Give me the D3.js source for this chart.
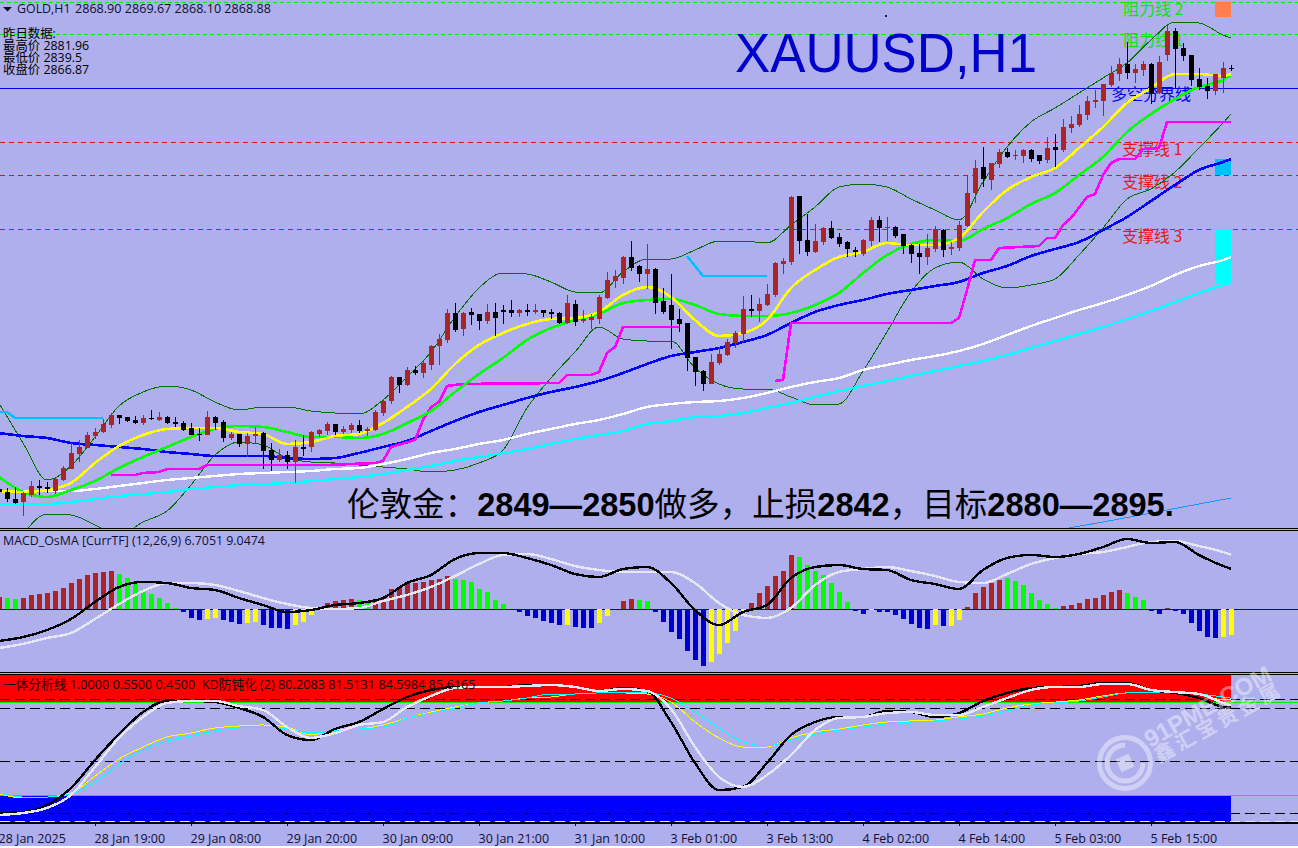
<!DOCTYPE html>
<html><head><meta charset="utf-8">
<script src="https://cdn.jsdelivr.net/npm/d3@7"></script>
<style>
html,body{margin:0;padding:0;background:#fff;overflow:hidden}
svg{display:block}
text{font-family:"Open Sans","Noto Sans CJK SC",sans-serif}
.cjk{font-family:"Noto Sans CJK SC",sans-serif}
</style></head><body>
<svg id="c" width="1298" height="848"></svg>
<script>
// ---- candles (GOLD H1) ----
const open=[2742.6,2741.7,2739.6,2738.7,2740.8,2743.5,2743.2,2742,2745.3,2748.6,2753.1,2754.9,2758.5,2759.7,2761.8,2764.8,2764.2,2763.3,2762.4,2763.9,2763.3,2764.2,2762.7,2762.4,2760.9,2759.1,2758.8,2764.2,2762.7,2757.9,2759.1,2756.1,2758.5,2759.4,2754.3,2751.3,2752.8,2750.7,2755.2,2755.2,2759.1,2760,2762.1,2759.7,2760.3,2761.8,2760,2760.3,2765.4,2769,2776.2,2773.8,2778.3,2777.4,2779.8,2785.5,2787.3,2795.4,2790.6,2795.7,2795.1,2793,2795.7,2796.3,2796.3,2795.4,2796.3,2795.7,2796.3,2795.7,2795.4,2792.4,2798.1,2793,2793.3,2793.6,2799.9,2805,2805.9,2812.2,2809.5,2807.1,2808.6,2799,2797.8,2793.6,2792.4,2782.2,2778,2774.1,2780.4,2782.8,2786.4,2789.1,2796.6,2796,2797.8,2800.8,2810.1,2810.7,2830.5,2817.3,2813.7,2816.7,2820.9,2818.2,2816.7,2814.3,2813.1,2817,2823.3,2820.9,2821.2,2819.1,2815.8,2813.4,2812.2,2814.6,2820.3,2814.6,2814.9,2821.5,2831.4,2839.2,2835.3,2840.1,2843.7,2842.5,2842.5,2844.3,2842.8,2841.3,2845.2,2844.3,2850.9,2851.8,2854.8,2858.7,2859,2863.8,2867.1,2870.1,2867.4,2868.3,2870.1,2861.4,2872.8,2880,2874.9,2872.8,2865.6,2863.5,2862,2865.9,2868.9];
const high=[2742.6,2742.9,2743.2,2741.7,2745,2745.3,2744.7,2745.9,2749.5,2756.4,2757.3,2759.7,2760.9,2763.6,2765.4,2764.8,2764.2,2764.5,2764.8,2766.3,2765.7,2764.5,2764.2,2763,2762.4,2760.9,2766,2764.5,2763.3,2759.7,2759.1,2759.4,2761.2,2759.7,2756.4,2754.6,2754,2757.3,2758.8,2760,2760.6,2762.7,2762.1,2761.5,2762.4,2763.3,2761.2,2766.3,2769.3,2776.5,2776.2,2779.2,2779.5,2781.3,2785.8,2789.1,2796.6,2798.4,2795.7,2796.9,2795.1,2798.1,2798.4,2797.8,2799.3,2796.6,2798.1,2798.1,2796.3,2796.6,2795.7,2800.8,2799.3,2796.3,2795.1,2800.8,2807.7,2808.3,2812.5,2817,2809.8,2816.1,2808.9,2802.9,2807.1,2796.6,2792.4,2782.2,2778.3,2783.1,2785.2,2787.6,2790,2800.5,2800.8,2799.9,2804.1,2810.7,2811.9,2830.5,2830.5,2825.1,2822.1,2821.2,2823,2819.4,2817,2815.2,2817.6,2824.2,2824.5,2824.2,2821.5,2819.1,2816.1,2816.1,2819.1,2821.5,2820.6,2816.7,2823,2836.5,2841.3,2845.2,2840.4,2844.6,2844.9,2844.3,2844.6,2844.6,2842.8,2848.2,2849.1,2853.6,2854.5,2857.8,2860.5,2862.3,2864.1,2869.5,2871.9,2876.7,2870.1,2871,2870.4,2872.5,2882.1,2880.9,2876.4,2872.8,2868.9,2865.9,2867.1,2870.7,2869.67];
const low=[2741.7,2738.7,2738.1,2734.5,2740.2,2740.8,2741.4,2741.1,2745,2748.6,2750.7,2754.9,2757.6,2759.4,2760.9,2762.1,2762.7,2762.1,2761.8,2763.3,2763,2762.1,2761.2,2760,2758.8,2757,2758.8,2760.3,2756.7,2757.3,2755.2,2752.2,2756.4,2748.6,2748,2750.7,2748.6,2744.4,2752.5,2753.7,2758.2,2758.8,2758.8,2759.1,2759.4,2759.4,2758.5,2760,2764.5,2768.1,2771.4,2773.5,2776.8,2775.9,2778.3,2779.8,2786.4,2789.7,2788.5,2791.8,2790.3,2792.1,2788.5,2792.1,2794.2,2794.2,2794.5,2795.1,2794.2,2793.6,2792.1,2792.1,2791.5,2792.4,2790.6,2792.1,2799.6,2802.9,2804.1,2808,2804.7,2802.6,2795.1,2795.1,2784.6,2789.7,2778,2773.5,2772,2774.1,2779.8,2782.5,2784.9,2786.7,2794.2,2792.7,2797.5,2800.2,2807.1,2809.8,2813.1,2812.5,2813.4,2815.8,2817.6,2815.2,2812.2,2812.2,2812.5,2815.5,2816.7,2817,2817.9,2813.1,2810.4,2807.1,2809.8,2813.7,2812.2,2812.8,2814,2821.2,2828.4,2833.2,2832.3,2838.9,2841.9,2841.3,2840.4,2840.7,2840.1,2840.4,2839.2,2843.7,2849.4,2851.2,2853.3,2856.9,2854.5,2863.2,2865,2865.6,2864.4,2866.5,2858.1,2861.1,2871,2862.9,2871,2863.5,2862.3,2859.6,2860.8,2861.4,2868.1];
const close=[2741.7,2739.6,2738.4,2741.4,2743.5,2742.9,2742.6,2745.6,2748.9,2753.4,2755.2,2758.8,2759.7,2762.1,2764.8,2763.9,2763,2762.4,2763.9,2763.6,2764.2,2762.4,2762.1,2760.3,2758.8,2758.8,2764.2,2762.4,2757.9,2759.1,2756.1,2758.5,2759.1,2754,2751.3,2752.8,2750.7,2755.2,2754.6,2759.7,2760.3,2762.1,2759.7,2760.6,2761.8,2760,2760.6,2765.7,2769,2776.2,2773.8,2778.3,2777.4,2780.4,2785.5,2787.6,2795.4,2790.3,2795.4,2794.8,2793,2795.7,2793.9,2795.7,2795.4,2796.3,2795.7,2796.3,2795.4,2795.1,2792.4,2798.4,2792.7,2793.6,2794.2,2800.2,2805.3,2806.5,2812.2,2808.9,2807.1,2808.6,2798.4,2795.7,2793.3,2792.1,2781.9,2777.7,2774.1,2780.7,2783.1,2786.7,2789.4,2796.6,2796,2798.1,2801.1,2810.4,2811,2830.2,2817,2813.7,2817,2820.9,2817.9,2816.1,2814.6,2813.7,2817.3,2823.3,2820.9,2821.2,2818.5,2815.5,2813.1,2812.2,2814.9,2820.6,2814.3,2815.2,2821.8,2831.4,2838.9,2835.6,2840.4,2843.7,2842.2,2842.8,2844.3,2841.6,2841,2844.9,2844.3,2851.2,2852.1,2855.1,2859,2859.3,2864.1,2867.4,2870.1,2867.4,2868.6,2870.1,2861.4,2870.7,2880,2874.6,2872.5,2865.3,2863.2,2862,2867.1,2868.9,2868.88];

// ---- moving averages, Bollinger (one reading every third bar) ----
const maYellow=[2742,2741.7,2742.3,2744.4,2750.4,2755.5,2758.8,2760.6,2760.9,2760.9,2759.7,2759.1,2756.1,2756.7,2758.5,2759.1,2762.4,2767.2,2772.6,2780.1,2785.8,2789.4,2792.1,2793.6,2793.9,2795.7,2800.8,2803.2,2800.2,2793.3,2788.5,2789.4,2793.3,2802.9,2808.3,2812.2,2813.7,2816.4,2815.8,2815.8,2817.9,2825.7,2832.3,2836.2,2838.9,2844.9,2851.2,2858.4,2862.9,2867.1,2867.1,2866.5,2867.1];
const maGreen=[2746.2,2741.7,2740.2,2742.3,2745,2748.9,2752.2,2755.2,2758.2,2760.6,2761.5,2761.2,2759.7,2758.2,2758.2,2757.9,2759.1,2762.4,2766,2771.7,2777.1,2781.9,2787.3,2790.9,2793.3,2795.1,2798.4,2799.3,2799.6,2797.8,2795.1,2794.5,2794.5,2795.4,2797.8,2801.4,2807.4,2812.8,2816.1,2817.3,2817,2820.6,2823.9,2828.1,2831.4,2836.8,2842.2,2849.7,2855.1,2859.6,2863.2,2865.3,2866.8];
const maBlue=[2759.4,2758.5,2757.9,2756.4,2755.8,2755.2,2754.6,2753.7,2753.1,2752.5,2752.5,2752.5,2751.9,2751.6,2751.9,2753.4,2755.2,2757,2760,2763,2765.7,2767.8,2769.9,2771.7,2773.2,2775,2777.4,2780.1,2782.5,2783.7,2784.9,2786.7,2788.8,2792.4,2795.7,2797.8,2799.3,2801.1,2802.3,2803.5,2804.7,2807.4,2809.5,2812.5,2814.6,2816.7,2820.3,2824.2,2829,2833.8,2838.3,2840.7,2841.6];
const maWhite=[2742,2742,2742,2742,2742.6,2743.5,2744.4,2745.3,2745.9,2746.5,2747.1,2747.4,2747.7,2748,2748.6,2748.9,2750.1,2751.6,2753.4,2754.6,2756.1,2757.3,2759.1,2760.6,2762.1,2763.3,2765.1,2767.2,2768.1,2768.7,2769,2769.9,2771.4,2773.2,2774.7,2775.9,2778.3,2779.8,2781.3,2782.5,2784,2786.1,2788.8,2791.5,2793.9,2796.3,2798.4,2800.8,2803.5,2806.8,2809.5,2811.3,2812.2];
const maCyan=[2738.1,2738.1,2738.1,2738.7,2739.6,2740.5,2741.1,2741.7,2742.6,2743.2,2743.8,2744.1,2744.4,2745,2745.6,2746.2,2747.1,2748.3,2749.5,2751,2752.2,2753.4,2754.6,2756.1,2757.6,2758.8,2760,2762.1,2763,2764.2,2764.5,2765.4,2766.9,2768.4,2770.2,2772,2773.5,2775,2776.5,2778,2779.5,2781,2782.8,2784.9,2787,2789.1,2791.2,2793.6,2796,2798.7,2801.4,2803.8,2804.4];
const bbUpper=[2768.4,2756.4,2745.3,2749.5,2758.2,2767.5,2771.7,2773.5,2772.3,2768.7,2766.3,2767.2,2767.2,2766,2765.4,2765.1,2769.3,2776.2,2783.7,2794.2,2802.9,2807.4,2807.1,2804.7,2801.7,2801.4,2807.7,2811.6,2811.6,2814.3,2817,2817,2816.4,2821.8,2827.2,2833.2,2834.1,2833.2,2829.6,2826.3,2823.3,2834.7,2845.2,2852.7,2856.9,2861.4,2865.9,2870.4,2877.3,2882.7,2882.4,2878.8,2877.9];
const bbLower=[2715.3,2728.8,2735.1,2734.8,2731.8,2728.8,2732.7,2736,2743.8,2752.8,2756.7,2755.8,2751.9,2750.7,2750.4,2749.8,2749.2,2748.6,2747.7,2748.3,2750.4,2754.3,2766.9,2775.9,2783.7,2791.2,2787.6,2787,2787,2778.9,2774.1,2772.6,2772.6,2770.2,2767.8,2768.1,2778,2789.7,2801.7,2808.9,2810.7,2805.6,2802.9,2803.8,2805.6,2812.8,2820.9,2829.6,2832.6,2837.7,2844.9,2852.4,2855.1];

// ---- stepped support lines: bar numbers and prices ----
const stepABars=[14,17,18,20,21,25,26,41,47,48,49,52,53,54,55,56,58,70,71,74,75,76,77,78,85];
const stepAVals=[2746.8,2746.8,2747.4,2747.7,2748.6,2748.6,2749.8,2749.8,2750.4,2751,2755.2,2757.3,2763.3,2767.2,2768.7,2773.5,2774.1,2774.4,2776.8,2776.8,2777.7,2783.4,2785.2,2791.2,2791.2];
const stepBBars=[97,98,99,119,120,121,122,124,125,130,131,132,133,134,136,137,138,139,140,142,143,145,146,154];
const stepBVals=[2775,2775.3,2792.4,2792.4,2793.9,2802.3,2811.3,2811.3,2814.9,2815.5,2817.9,2817.9,2821.8,2823.9,2830.2,2831.1,2836.8,2840.4,2841.6,2841.6,2844.6,2844.9,2852.7,2852.7];
const skyABars=[0,1,2,13], skyAVals=[2765.7,2765.7,2763.9,2763.9];
const skyBBars=[86,88,96], skyBVals=[2812.5,2806.5,2806.5];
const longBars=[133,138,146,154], longVals=[2730.6,2732.7,2736.3,2739.9];

// ---- horizontal price levels ----
const resistLevels=[2888.7,2879.1];
const pivotLevel=2862.9;
const supportLevels=[2846.7,2836.8,2820.6];
const levelNames=["阻力线 2","阻力线 1","多空分界线","支撑线 1","支撑线 2","支撑线 3"];
const zoneFrom=[2888.7,2841.6,2820.6], zoneTo=[2884.2,2836.8,2804.4];
const zoneNames=["coral","sky","cyan"];

// ---- MACD_OsMA ----
const histVals=[2,1.83,1.67,1.83,2.33,2.5,2.67,3,3.5,4.33,5,5.67,6,6.17,6.33,5.83,5.17,4.17,3.33,2.5,1.83,1,.17,-.5,-1.5,-1.83,-1.67,-1.5,-1.83,-2.17,-2.5,-2.33,-2.17,-2.67,-3.17,-3.17,-3.33,-2.67,-2.17,-1,-.08,1,1.33,1.5,1.67,1.5,1.17,1.33,1.83,3.33,3.67,4.33,4.33,4.5,4.83,5,5.5,5,4.83,4.5,3.33,2.83,1.5,.83,0,-.5,-1.17,-1.5,-2,-2.33,-2.67,-2.67,-3,-3.17,-3.17,-2.33,-1.17,0,1.33,1.67,1.5,1.33,-.5,-2.17,-3.83,-5,-7,-8.5,-9.5,-8.83,-7.5,-5.67,-3.67,-.67,1,2.67,3.83,5.5,6.33,9,8.67,7.33,6.33,5.67,4.33,2.83,1.17,-.33,-.83,-.17,-.5,-.5,-1,-1.67,-2.5,-3.17,-3.33,-2.67,-2.83,-2.83,-1.83,.33,2.67,3.67,4.33,4.83,5.17,4.67,4,2.67,1.5,.83,.17,.5,.67,1,1.67,1.83,2.33,2.83,3.17,2.67,2,1.5,-.33,-.83,.17,-.33,-.83,-2.33,-3.67,-4.67,-4.83,-4.67,-4.33];
const histState="rggrrrrrrrrrrrrggggggggbbbyybbbyybbbbyyyyrrrrggrrrrrrrrrrggggggggbbbbbbybbbyyyrrggbbbbbbbyyyyyrrrrrrgggggggbbybbbbbbbybyyrrrrrgggggggrrrrrrrrgggbbrbbbbbbyy";
const macdMain=[-5.33,-4.67,-3.5,-1.67,1.17,3.67,4.5,4.33,3.5,3.17,1.83,.67,-.5,-.17,.67,1,1.83,4.33,5.67,8.33,9.33,9.33,8.5,7.33,5.83,5.33,6.67,7,4.33,-.17,-2.67,-.5,.67,5.17,7,7.33,6.67,6.5,4.83,4.17,3.33,6.5,8.5,9,8.67,9.17,10.33,11.67,11,11.17,9,7.17,6.71];
const macdSignal=[-6.5,-5.83,-4.83,-4,-1.67,.83,3,4.33,4.33,4,3,1.83,.83,.17,0,.17,1.33,2.33,3.67,5.5,7.5,9,9.17,8.33,7.17,6.5,6.17,6.17,6.17,4.33,1,-1,-1.5,.17,4,6.17,6.67,7,6.33,5.5,4.5,4.33,5.83,7.5,8.5,9.17,9.5,10.33,11.17,11.33,10.5,9.5,9.05];

// ---- KD panel ----
const kdBlack=[20,20.6,24.6,34.3,50.3,65.1,77.7,84,84,83.4,80,74.9,64.6,61.7,68,72,79.4,86.3,90.3,92,92,92,93.1,93.1,92,89.7,91.4,89.7,72,48.6,33.1,34.9,48.6,64.6,72,74.9,74.9,78.3,77.7,74.9,77.1,84,88.6,91.4,92,92.6,94.3,94.3,90.3,88.6,85.7,80.6,80.2];
const kdWhite=[18.9,20,22.9,30.3,46.3,62.9,74.9,82.9,84,84,81.1,78.9,69.1,62.9,65.7,70.3,72,80.6,86.9,91.4,92,92,92.6,93.1,92,89.7,90.9,89.7,79.4,57.7,40.6,34.9,41.7,53.1,67.4,74.3,74.9,77.1,77.7,76,76,80.6,85.7,90.3,92,92,93.7,93.7,90.3,89.1,88,82.9,81.5];
const kdYellow=[30.9,28.6,29.1,31.4,41.1,50.9,57.7,63.4,65.7,68.6,69.7,70.3,69.1,64.6,67.4,68,70.3,74.3,77.7,80.6,82.9,84,85.7,86.3,88,88.6,88.6,88,83.4,72,62.9,57.7,57.7,62.9,66.3,68,70.3,72,72.6,73.1,74.9,76.6,80,82.3,83.4,84.6,86.9,88.6,88.6,88.6,88,84.6,84.6];
const kdCyan=[31.4,29.1,29.1,30.9,37.7,48,56,61.1,64,66.9,68.6,69.1,68,65.7,66.9,68,69.1,74.3,77.1,80,82.9,84,85.7,88,88,88.6,88.6,88.6,85.7,77.7,68.6,60.6,58.3,61.7,65.1,67.4,69.1,70.9,72,72.6,73.7,75.4,78.3,81.7,82.9,84,86.3,88.6,88.6,88.6,88,86.3,85.6];
const kdDashed=[85,80,50,20,15];
const kdGreen=[83.4,30];
const kdRedBand=[83.4,98.9], kdBlueBand=[14.9,30];

// ---- text ----
const tickBars=[0,12,24,36,48,60,72,84,96,108,120,132,144];
const tickLabels=["28 Jan 2025","28 Jan 19:00","29 Jan 08:00","29 Jan 20:00","30 Jan 09:00","30 Jan 21:00","31 Jan 10:00","3 Feb 01:00","3 Feb 13:00","4 Feb 02:00","4 Feb 14:00","5 Feb 03:00","5 Feb 15:00"];
const quote=["2868.90","2869.67","2868.10","2868.88"];
const yesterday=["昨日数据:","最高价 2881.96","最低价 2839.5","收盘价 2866.87"];
const noteParts=["伦敦金\uFF1A","2849—2850","做多\uFF0C止损","2842","\uFF0C目标","2880—2895."];

const W=1298,PANEL_H=846,BG="#AFAFEE",BROWN="#AA2626";
const svg=d3.select("#c");
svg.append("rect").attr("width",W).attr("height",PANEL_H).attr("fill",BG);
const defs=svg.append("defs");
defs.append("clipPath").attr("id","mainClip").append("rect").attr("width",W).attr("height",528);
defs.append("clipPath").attr("id","kdClip").append("rect").attr("y",675).attr("width",W).attr("height",147);

const x=d3.scaleLinear().domain([0,154]).range([-1,1231]);
const yP=d3.scaleLinear().domain([2889.3,2730.9]).range([0,528]);
const yM=d3.scaleLinear().domain([13,-10.5]).range([531,672]);
const yK=d3.scaleLinear().domain([0,100]).range([848,673]);
const sampleBars=d3.range(0,154,3).concat([154]);
const crisp="crispEdges";

function hline(g,y,color,dash,w){
  g.append("line").attr("x1",0).attr("x2",W).attr("y1",y).attr("y2",y)
   .attr("stroke",color).attr("stroke-width",w||1).attr("stroke-dasharray",dash||null).attr("shape-rendering",crisp);
}
function series(g,bars,vals,scale,color,w,curve){
  const l=d3.line().x((d,i)=>x(bars[i])).y(d=>scale(d)).curve(curve||d3.curveMonotoneX);
  g.append("path").datum(vals).attr("d",l).attr("fill","none").attr("stroke",color)
   .attr("stroke-width",w).attr("stroke-linejoin","round").attr("shape-rendering",crisp);
}

// ================= main panel =================
const main=svg.append("g").attr("clip-path","url(#mainClip)");
resistLevels.forEach(v=>hline(main,Math.round(yP(v))+.5,"#00F000","4 3"));
hline(main,Math.round(yP(pivotLevel))+.5,"#0000E6");
supportLevels.forEach(v=>hline(main,Math.round(yP(v))+.5,"#D81818","5 4"));

const zoneColor={coral:"#FF7F50",sky:"#00BFFF",cyan:"#00FFFF"};
zoneNames.forEach((n,i)=>main.append("rect").attr("x",x(152)).attr("width",x(154)-x(152))
  .attr("y",yP(zoneFrom[i])).attr("height",yP(zoneTo[i])-yP(zoneFrom[i])).attr("fill",zoneColor[n]));

const levelLabelY=[15,46,100,155,188,242], levelLabelX=[1123,1123,1111,1122,1122,1122];
const levelLabelC=["#10E010","#10E010","#0000E6","#E81818","#E81818","#E81818"];
levelNames.forEach((t,i)=>main.append("text").attr("class","cjk").attr("x",levelLabelX[i]).attr("y",levelLabelY[i])
  .attr("font-size",16).attr("fill",levelLabelC[i]).text(t));

main.append("text").attr("x",735).attr("y",72).attr("font-size",56).attr("fill","#0000CD")
  .style("font-family","'Liberation Sans',sans-serif").attr("textLength",302).attr("lengthAdjust","spacingAndGlyphs").text("XAUUSD,H1");

series(main,sampleBars,bbUpper,yP,"#007000",1);
series(main,sampleBars,bbLower,yP,"#007000",1);
series(main,sampleBars,maCyan,yP,"#00FFFF",2.4);
series(main,sampleBars,maWhite,yP,"#FFFFFF",2.4);
series(main,sampleBars,maBlue,yP,"#0000FF",2.6);
series(main,stepABars,stepAVals,yP,"#FF00FF",2.6,d3.curveLinear);
series(main,stepBBars,stepBVals,yP,"#FF00FF",2.6,d3.curveLinear);
series(main,skyABars,skyAVals,yP,"#00BFFF",2.4,d3.curveLinear);
series(main,skyBBars,skyBVals,yP,"#00BFFF",2.4,d3.curveLinear);
series(main,longBars,longVals,yP,"#1E90FF",1,d3.curveLinear);
series(main,sampleBars,maGreen,yP,"#00FF00",2.6);
series(main,sampleBars,maYellow,yP,"#FFFF00",2.6);

const candleG=main.append("g").attr("shape-rendering",crisp);
d3.range(open.length).forEach(i=>{
  const up=close[i]>=open[i], col=up?BROWN:"#000", cx=Math.round(x(i));
  candleG.append("line").attr("x1",cx+.5).attr("x2",cx+.5).attr("y1",yP(high[i])).attr("y2",yP(low[i])).attr("stroke",col);
  const t=yP(Math.max(open[i],close[i])), b=yP(Math.min(open[i],close[i]));
  candleG.append("rect").attr("x",cx-2).attr("width",5).attr("y",t).attr("height",Math.max(1,b-t)).attr("fill",col);
});

// big note
const note=main.append("text").attr("x",347).attr("y",516).attr("font-size",32.55).attr("fill","#000")
  .style("font-family","'Liberation Sans','Noto Sans CJK SC',sans-serif");
noteParts.forEach((t,i)=>note.append("tspan").attr("font-weight",i%2?"bold":"normal").text(t));

// header text
svg.append("path").attr("d","M3 7L12 7L7.5 11.5Z").attr("fill","#101020");
svg.append("text").attr("x",17).attr("y",13).attr("font-size",12.4).attr("fill","#101030").text("GOLD,H1");
svg.append("text").attr("x",75).attr("y",13).attr("font-size",12.6).attr("fill","#101030").text(quote.join(" "));
yesterday.forEach((t,i)=>svg.append("text").attr("x",3).attr("y",38+i*12).attr("font-size",12.4).attr("fill","#000").text(t));
svg.append("rect").attr("x",885).attr("y",15).attr("width",2).attr("height",2).attr("fill","#202040");

// separators
hline(svg,528.5,"#000"); hline(svg,530.5,"#000");

// ================= MACD panel =================
const macd=svg.append("g");
hline(macd,Math.round(yM(0))+.5,"#0000CD");
const histColor={r:BROWN,g:"#00FF00",b:"#0000CD",y:"#FFFF00"};
macd.append("g").attr("shape-rendering",crisp).selectAll("rect").data(histVals).join("rect")
  .attr("x",(d,i)=>Math.round(x(i))-2).attr("width",5)
  .attr("y",d=>Math.min(yM(d),yM(0)))
  .attr("height",d=>Math.abs(yM(d)-yM(0)))
  .attr("fill",(d,i)=>histColor[histState[i]]);
series(macd,sampleBars,macdSignal,yM,"#E6E6F5",2.4);
series(macd,sampleBars,macdMain,yM,"#000",2.4);
macd.append("text").attr("x",3).attr("y",545).attr("font-size",12.4).attr("fill","#101030").text("MACD_OsMA [CurrTF] (12,26,9) 6.7051 9.0474");
hline(svg,672.5,"#000"); hline(svg,674.5,"#000");

// ================= KD panel =================
const kd=svg.append("g").attr("clip-path","url(#kdClip)");
[[kdRedBand,"#FF0000"],[kdBlueBand,"#0000FF"]].forEach(b=>{
  kd.append("rect").attr("x",0).attr("width",x(154)).attr("y",yK(b[0][1])).attr("height",yK(b[0][0])-yK(b[0][1])).attr("fill",b[1]);
});
kdDashed.forEach((v,i)=>hline(kd,Math.round(yK(v))+.5-(i==4?1:0),i==4?"#E6E6F5":"#000","10 5"));
kdGreen.forEach(v=>hline(kd,Math.round(yK(v))+.5,"#00F000"));
series(kd,sampleBars,kdYellow,yK,"#FFFF00",1);
series(kd,sampleBars,kdCyan,yK,"#00FFFF",1);
series(kd,sampleBars,kdBlack,yK,"#000",2.4);
series(kd,sampleBars,kdWhite,yK,"#E6E6F5",2.4);
svg.append("text").attr("x",3).attr("y",689).attr("font-size",12.7).attr("fill","#200000")
  .attr("xml:space","preserve").text("一体分析线 1.0000 0.5500 0.4500  KD防钝化 (2) 80.2083 81.5131 84.5984 85.6165");

// ================= time axis =================
hline(svg,822.5,"#000",null,2);
const axis=d3.axisBottom(x).tickValues(tickBars).tickFormat((d,i)=>tickLabels[i]).tickSize(4).tickPadding(6);
const ag=svg.append("g").attr("transform","translate(0,822)").call(axis);
ag.select(".domain").remove();
ag.selectAll("line").attr("stroke","#000").attr("shape-rendering",crisp);
ag.selectAll("text").attr("text-anchor","start").attr("font-size",12.5).attr("fill","#101030").attr("dx",-1)
  .style("font-family","'Open Sans',sans-serif").attr("dy","0.85em");

// ================= watermark =================
const wm=svg.append("g").attr("fill","#fff").attr("opacity",.42);
wm.append("circle").attr("cx",1125).attr("cy",763).attr("r",25.5).attr("fill","none").attr("stroke","#fff").attr("stroke-width",5);
wm.append("path").attr("d","M1125 745a18 18 0 1 0 18 18").attr("fill","none").attr("stroke","#fff").attr("stroke-width",5);
wm.append("rect").attr("x",1118).attr("y",756).attr("width",14).attr("height",14).attr("transform","rotate(-25 1125 763)");
wm.append("text").attr("transform","translate(1150,748) rotate(-29)").attr("font-size",24).attr("font-weight","bold")
  .style("font-family","'Liberation Sans',sans-serif").text("91PME.COM");
wm.append("text").attr("class","cjk").attr("transform","translate(1159,763) rotate(-29)").attr("font-size",20).attr("font-weight","bold")
  .attr("letter-spacing",4).text("鑫汇宝贵金属");
</script>
</body></html>
